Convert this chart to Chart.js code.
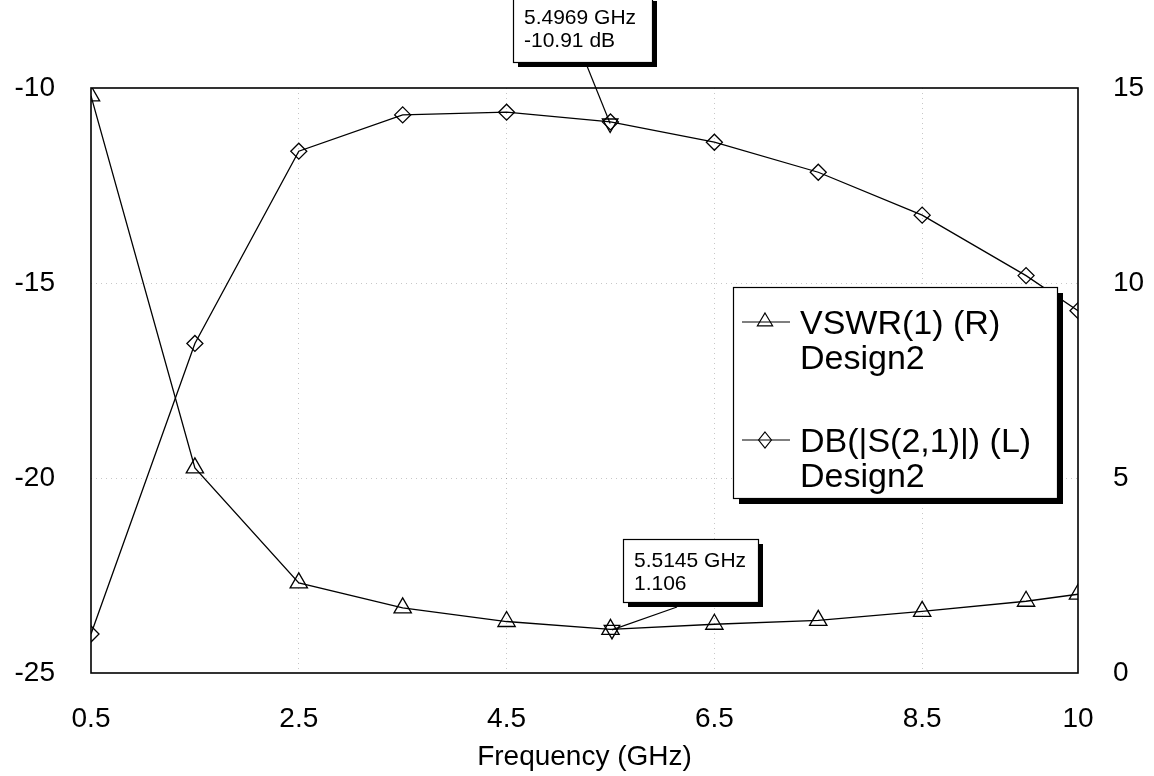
<!DOCTYPE html>
<html>
<head>
<meta charset="utf-8">
<title>VSWR and S21 vs Frequency</title>
<script src="https://cdn.jsdelivr.net/npm/chart.js@4.4.1/dist/chart.umd.min.js"></script>
<style>
    html, body { margin: 0; padding: 0; background: #fff; }
    #wrap { width: 1154px; height: 776px; }
</style>
</head>
<body>
<div id="wrap"><canvas id="chart" width="1154" height="776"></canvas></div>
<script>
// ---- data ----
const freqs = [0.5, 1.5, 2.5, 3.5, 4.5, 5.5, 6.5, 7.5, 8.5, 9.5, 10];
const vswr = [14.8, 5.26, 2.31, 1.67, 1.32, 1.12, 1.25, 1.35, 1.58, 1.84, 2.02];
const dbS21 = [-24.0, -16.55, -11.62, -10.69, -10.62, -10.87, -11.39, -12.16, -13.26, -14.81, -15.71];

const xTicks = [0.5, 2.5, 4.5, 6.5, 8.5, 10];
const leftTicks = [-25, -20, -15, -10];
const rightTicks = [0, 5, 10, 15];

const legendLines = [['VSWR(1) (R)', 'Design2'], ['DB(|S(2,1)|) (L)', 'Design2']];

// marker readouts: [freq, value]
const dbMarker = [5.4969, -10.91];
const vswrMarker = [5.5145, 1.106];
const dbMarkerText = ['5.4969 GHz', '-10.91 dB'];
const vswrMarkerText = ['5.5145 GHz', '1.106'];

(function () {
    'use strict';

    const FONT = '"Liberation Sans", Arial, sans-serif';
    const GRID = 'rgba(0,0,0,0.22)';

    const toPoints = (xs, ys) => xs.map((x, i) => ({ x, y: ys[i] }));

    function shape(ctx, style, x, y, r) {
        ctx.beginPath();
        if (style === 'triangle') {
            ctx.moveTo(x, y - r);
            ctx.lineTo(x + r * 0.95, y + r * 0.6);
            ctx.lineTo(x - r * 0.95, y + r * 0.6);
        } else {
            ctx.moveTo(x, y - r);
            ctx.lineTo(x + r * 0.8, y);
            ctx.lineTo(x, y + r);
            ctx.lineTo(x - r * 0.8, y);
        }
        ctx.closePath();
        ctx.stroke();
    }

    function calloutBox(ctx, left, top, w, h, lines, tipX, tipY, fromX, fromY) {
        ctx.save();
        ctx.strokeStyle = '#000';
        ctx.lineWidth = 1.2;
        ctx.beginPath();
        ctx.moveTo(fromX, fromY);
        ctx.lineTo(tipX, tipY);
        ctx.stroke();
        ctx.fillStyle = '#000';
        ctx.fillRect(left + 5, top + 5, w, h);
        ctx.fillStyle = '#fff';
        ctx.fillRect(left, top, w, h);
        ctx.strokeRect(left + 0.5, top + 0.5, w, h);
        ctx.fillStyle = '#000';
        ctx.font = '21px ' + FONT;
        ctx.textBaseline = 'alphabetic';
        ctx.textAlign = 'left';
        lines.forEach((t, i) => ctx.fillText(t, left + 11, top + 28 + i * 23));
        ctx.restore();
    }

    const framePlugin = {
        id: 'frame',
        beforeDatasetsDraw(chart) {
            const a = chart.chartArea;
            const ctx = chart.ctx;
            ctx.save();
            ctx.strokeStyle = '#000';
            ctx.lineWidth = 1.6;
            ctx.strokeRect(a.left, a.top, a.right - a.left, a.bottom - a.top);
            ctx.restore();
        },
        afterDatasetsDraw(chart) {
            const ctx = chart.ctx;
            const sx = chart.scales.x, sy = chart.scales.y, sy1 = chart.scales.y1;

            // legend box, drawn over the curves
            const L = { left: 733, top: 287, w: 324, h: 211 };
            ctx.save();
            ctx.fillStyle = '#000';
            ctx.fillRect(L.left + 6, L.top + 6, L.w, L.h);
            ctx.fillStyle = '#fff';
            ctx.fillRect(L.left, L.top, L.w, L.h);
            ctx.strokeStyle = '#000';
            ctx.lineWidth = 1.2;
            ctx.strokeRect(L.left + 0.5, L.top + 0.5, L.w, L.h);

            ctx.font = '34px ' + FONT;
            ctx.fillStyle = '#000';
            ctx.textAlign = 'left';
            ctx.textBaseline = 'alphabetic';
            const styles = ['triangle', 'diamond'];
            const rowBase = [334, 452];
            legendLines.forEach((lines, i) => {
                const base = rowBase[i];
                const ly = base - 12;
                ctx.beginPath();
                ctx.moveTo(742, ly);
                ctx.lineTo(790, ly);
                ctx.stroke();
                shape(ctx, styles[i], 765, ly + (i === 0 ? -1 : 0), 8);
                ctx.fillText(lines[0], 800, base);
                ctx.fillText(lines[1], 800, base + 35);
            });
            ctx.restore();

            // marker callouts
            calloutBox(ctx, 513, -4, 139, 66, dbMarkerText,
                sx.getPixelForValue(dbMarker[0]), sy.getPixelForValue(dbMarker[1]), 587, 66);
            calloutBox(ctx, 623, 539, 135, 63, vswrMarkerText,
                sx.getPixelForValue(vswrMarker[0]), sy1.getPixelForValue(vswrMarker[1]), 677, 607);
        }
    };

    const gridColor = edges => c => (edges.includes(c.tick.value) ? 'rgba(0,0,0,0)' : GRID);

    const lineStyle = {
        borderColor: '#000',
        borderWidth: 1.3,
        backgroundColor: 'rgba(0,0,0,0)',
        pointBackgroundColor: 'rgba(0,0,0,0)',
        pointBorderColor: '#000',
        pointBorderWidth: 1.3,
        tension: 0,
        fill: false
    };

    new Chart(document.getElementById('chart'), {
        type: 'line',
        data: {
            datasets: [
                {
                    ...lineStyle,
                    label: 'VSWR(1) (R)',
                    data: toPoints(freqs, vswr),
                    yAxisID: 'y1',
                    pointStyle: 'triangle',
                    pointRadius: 10
                },
                {
                    ...lineStyle,
                    label: 'DB(|S(2,1)|) (L)',
                    data: toPoints(freqs, dbS21),
                    yAxisID: 'y',
                    pointStyle: 'rectRot',
                    pointRadius: 8
                },
                {
                    ...lineStyle,
                    label: 'm1',
                    data: [{ x: dbMarker[0], y: dbMarker[1] }],
                    yAxisID: 'y',
                    showLine: false,
                    pointStyle: 'triangle',
                    pointRadius: 9,
                    pointRotation: 180
                },
                {
                    ...lineStyle,
                    label: 'm2',
                    data: [{ x: vswrMarker[0], y: vswrMarker[1] }],
                    yAxisID: 'y1',
                    showLine: false,
                    pointStyle: 'triangle',
                    pointRadius: 9,
                    pointRotation: 180
                }
            ]
        },
        options: {
            responsive: false,
            animation: false,
            layout: { padding: { top: 88, left: 0, right: 0, bottom: 0 } },
            plugins: {
                legend: { display: false },
                tooltip: { enabled: false }
            },
            scales: {
                x: {
                    type: 'linear',
                    min: 0.5,
                    max: 10,
                    afterBuildTicks: s => { s.ticks = xTicks.map(v => ({ value: v })); },
                    afterFit: s => { s.height = 103; },
                    ticks: {
                        autoSkip: false,
                        maxRotation: 0,
                        padding: 29,
                        color: '#000',
                        font: { family: FONT, size: 28 },
                        callback: v => String(v)
                    },
                    grid: { color: gridColor([0.5, 10]), drawTicks: false, lineWidth: 1 },
                    border: { display: false, dash: [1, 4] },
                    title: {
                        display: true,
                        text: 'Frequency (GHz)',
                        color: '#000',
                        font: { family: FONT, size: 28 },
                        padding: { top: 0, bottom: 2 }
                    }
                },
                y: {
                    type: 'linear',
                    position: 'left',
                    min: -25,
                    max: -10,
                    afterBuildTicks: s => { s.ticks = leftTicks.map(v => ({ value: v })); },
                    afterFit: s => { s.width = 91; },
                    ticks: {
                        padding: 36,
                        color: '#000',
                        font: { family: FONT, size: 28 }
                    },
                    grid: { color: gridColor([-25, -10]), drawTicks: false, lineWidth: 1 },
                    border: { display: false, dash: [1, 4] }
                },
                y1: {
                    type: 'linear',
                    position: 'right',
                    min: 0,
                    max: 15,
                    afterBuildTicks: s => { s.ticks = rightTicks.map(v => ({ value: v })); },
                    afterFit: s => { s.width = 76; },
                    ticks: {
                        padding: 35,
                        color: '#000',
                        font: { family: FONT, size: 28 }
                    },
                    grid: { drawOnChartArea: false, drawTicks: false },
                    border: { display: false }
                }
            }
        },
        plugins: [framePlugin]
    });
})();
</script>
</body>
</html>
